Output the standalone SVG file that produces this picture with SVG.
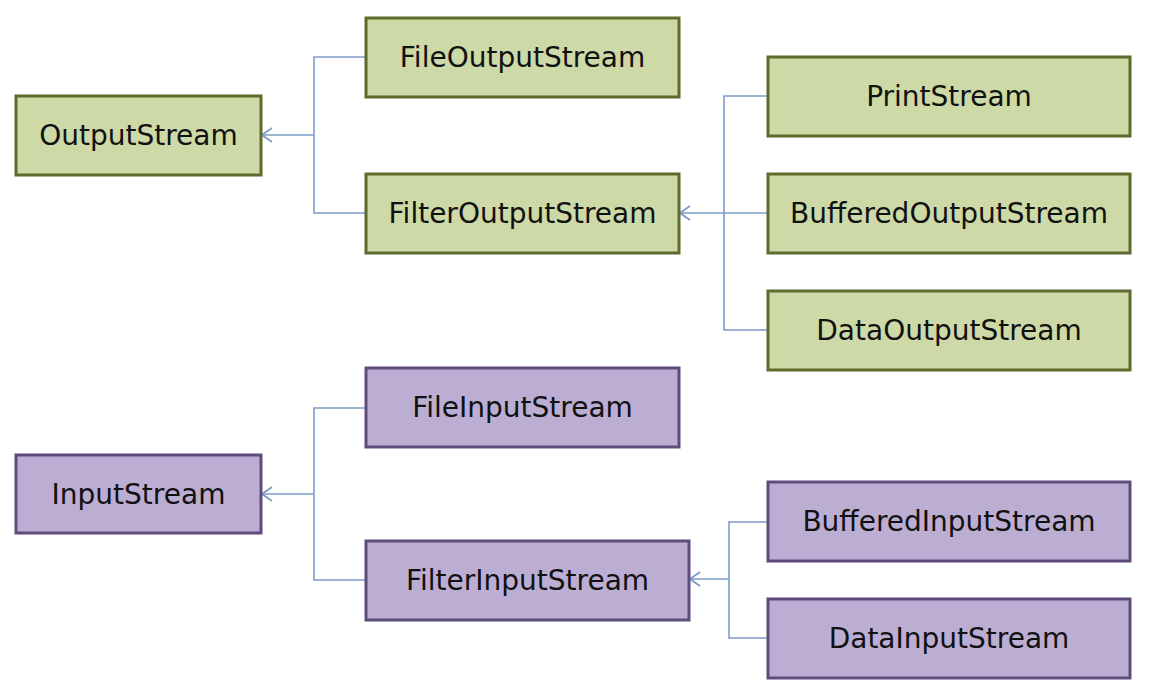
<svg xmlns="http://www.w3.org/2000/svg" width="1152" height="700" viewBox="0 0 1152 700">
<defs>
<style>
.g{fill:#cdd9a7;stroke:#5d6b2c;stroke-width:3}
.p{fill:#bcaed3;stroke:#5e4d7c;stroke-width:3}
.t{font-family:"DejaVu Sans","Liberation Sans",sans-serif;font-size:28px;fill:#111;text-anchor:middle;dominant-baseline:central}
.c{fill:none;stroke:#7d9cc9;stroke-width:1.6}
</style>
<marker id="a" viewBox="0 0 12 16" refX="11" refY="8" markerWidth="12" markerHeight="16" markerUnits="userSpaceOnUse" orient="auto">
<path d="M1,1 L11,8 L1,15" fill="none" stroke="#7d9cc9" stroke-width="1.8"/>
</marker>
</defs>
<rect width="1152" height="700" fill="#fff"/>
<g id="connectors">
<path class="c" d="M366,57 H314 V213 H366"/>
<path class="c" d="M314,135 H262" marker-end="url(#a)"/>
<path class="c" d="M768,96 H724 V330 H768"/>
<path class="c" d="M768,213 H680" marker-end="url(#a)"/>
<path class="c" d="M366,408 H314 V580 H366"/>
<path class="c" d="M314,494 H262" marker-end="url(#a)"/>
<path class="c" d="M768,522 H729 V638 H768"/>
<path class="c" d="M729,579 H690" marker-end="url(#a)"/>
</g>
<g id="OutputStream"><rect class="g" x="16" y="96" width="245" height="79"/><text class="t" x="138.5" y="135.5">OutputStream</text></g>
<g id="FileOutputStream"><rect class="g" x="366" y="18" width="313" height="79"/><text class="t" x="522.5" y="57.5">FileOutputStream</text></g>
<g id="FilterOutputStream"><rect class="g" x="366" y="174" width="313" height="79"/><text class="t" x="522.5" y="213.5">FilterOutputStream</text></g>
<g id="PrintStream"><rect class="g" x="768" y="57" width="362" height="79"/><text class="t" x="949" y="96.5">PrintStream</text></g>
<g id="BufferedOutputStream"><rect class="g" x="768" y="174" width="362" height="79"/><text class="t" x="949" y="213.5">BufferedOutputStream</text></g>
<g id="DataOutputStream"><rect class="g" x="768" y="291" width="362" height="79"/><text class="t" x="949" y="330.5">DataOutputStream</text></g>
<g id="InputStream"><rect class="p" x="16" y="455" width="245" height="78"/><text class="t" x="138.5" y="494">InputStream</text></g>
<g id="FileInputStream"><rect class="p" x="366" y="368" width="313" height="79"/><text class="t" x="522.5" y="407.5">FileInputStream</text></g>
<g id="FilterInputStream"><rect class="p" x="366" y="541" width="323" height="79"/><text class="t" x="527.5" y="580.5">FilterInputStream</text></g>
<g id="BufferedInputStream"><rect class="p" x="768" y="482" width="362" height="79"/><text class="t" x="949" y="521.5">BufferedInputStream</text></g>
<g id="DataInputStream"><rect class="p" x="768" y="599" width="362" height="79"/><text class="t" x="949" y="638.5">DataInputStream</text></g>
</svg>
